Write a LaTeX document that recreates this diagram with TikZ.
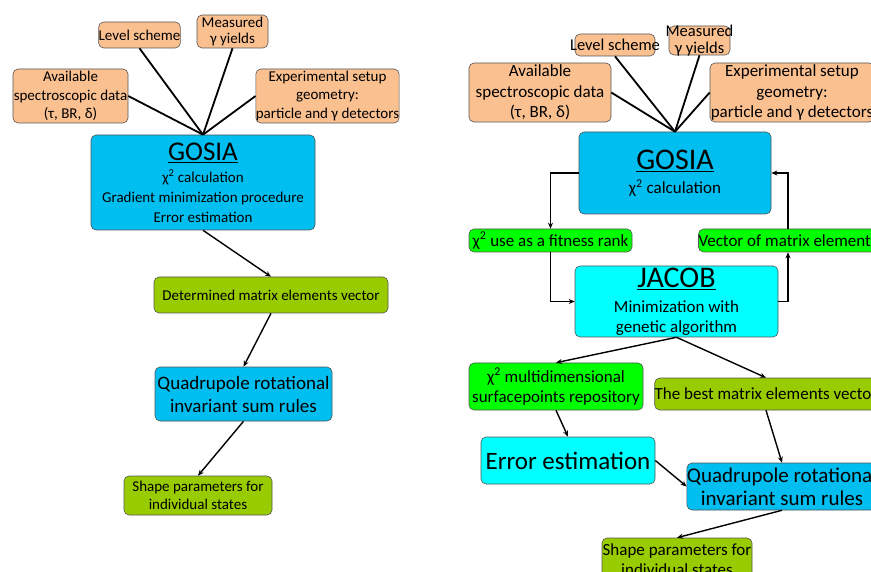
\documentclass[tikz,border=0pt]{standalone}
\usepackage{fontspec}
\setmainfont{Carlito}
\usetikzlibrary{arrows.meta, positioning, calc}
\definecolor{InputPeach}{HTML}{FAC090}
\definecolor{GosiaBlue}{HTML}{00BEF0}
\definecolor{JacobCyan}{HTML}{00FFFF}
\definecolor{RankGreen}{HTML}{00FF00}
\definecolor{ResultOlive}{HTML}{99CC00}
\definecolor{EdgeGray}{HTML}{555555}
\newcommand{\setfs}[2]{\fontsize{#1}{#2}\selectfont}

\tikzset{
  box/.style={draw=EdgeGray, line width=0.6pt, rounded corners=5pt, align=center, inner sep=0pt, text=black},
  inbox/.style={box, fill=InputPeach},
  codebox/.style={box, fill=GosiaBlue},
  jacobbox/.style={box, fill=JacobCyan},
  rankbox/.style={box, fill=RankGreen},
  resbox/.style={box, fill=ResultOlive},
  feed/.style={line width=1.8pt, black},
  flow/.style={line width=1.4pt, black, -{Stealth[length=6pt, width=5pt]}},
}

\begin{document}
\begin{tikzpicture}[x=1pt, y=-1pt]
  \useasboundingbox (0,0) rectangle (871,572);
  \clip (0,0) rectangle (871,572);

  % gradient chain
  \node[inbox, minimum width=81pt, minimum height=26pt, font=\setfs{15}{18}] (levelL) at (139.5,35) {Level scheme};
  \node[inbox, minimum width=71pt, minimum height=33pt, font=\setfs{15}{16}] (yieldsL) at (232.5,31.5) {Measured\\γ yields};
  \node[inbox, minimum width=115pt, minimum height=54pt, font=\setfs{15}{18.5}] (specL) at (70.5,96) {Available\\spectroscopic data\\(τ, BR, δ)};
  \node[inbox, minimum width=143pt, minimum height=54pt, font=\setfs{15}{18.5}] (setupL) at (327.5,96) {Experimental setup\\geometry:\\particle and γ detectors};
  \node[codebox, minimum width=224pt, minimum height=95pt, font=\setfs{15}{20}] (gosiaL) at (203,182.5)
    {{\setfs{27}{27}\underline{GOSIA}}\\[2pt] χ\textsuperscript{2} calculation\\Gradient minimization procedure\\Error estimation};
  \node[resbox, minimum width=234pt, minimum height=36pt, font=\setfs{15}{18}] (matrixL) at (271,295) {Determined matrix elements vector};
  \node[codebox, minimum width=177pt, minimum height=54pt, font=\setfs{19}{23}] (sumL) at (243.5,394) {Quadrupole rotational\\invariant sum rules};
  \node[resbox, minimum width=148pt, minimum height=39pt, font=\setfs{15}{18}] (shapeL) at (198,495.5) {Shape parameters for\\individual states};

  \foreach \src in {levelL.south, yieldsL.south, specL.east, setupL.west}
    \draw[feed] (\src) -- (gosiaL.north);
  \draw[flow] (gosiaL.south) -- (matrixL.north);
  \draw[flow] (matrixL.south) -- (sumL.north);
  \draw[flow] (sumL.south) -- (shapeL.north);

  % genetic chain
  \node[inbox, minimum width=80pt, minimum height=22pt] (levelR) at (615,45) {};
  \node[font=\setfs{16.5}{18}, inner sep=0pt] (levelRtext) at (levelR) {Level scheme};
  \node[inbox, minimum width=61pt, minimum height=29pt] (yieldsR) at (699.5,40.5) {};
  \node[font=\setfs{16.5}{17}, align=center, inner sep=0pt] (yieldsRtext) at (yieldsR) {Measured\\γ yields};
  \node[inbox, minimum width=142pt, minimum height=59pt, font=\setfs{17}{20.5}] (specR) at (540,92.5) {Available\\spectroscopic data\\(τ, BR, δ)};
  \node[inbox, minimum width=164pt, minimum height=59pt, font=\setfs{17}{20.5}] (setupR) at (792,92.5) {Experimental setup\\geometry:\\particle and γ detectors};
  \node[codebox, minimum width=192pt, minimum height=82pt, font=\setfs{17}{20}] (gosiaR) at (675,173)
    {{\setfs{30}{30}\underline{GOSIA}}\\[4pt] χ\textsuperscript{2} calculation};
  \node[rankbox, minimum width=163pt, minimum height=23pt, font=\setfs{17}{20}] (rankR) at (550.5,240.5) {χ\textsuperscript{2} use as a fitness rank};
  \node[rankbox, minimum width=176pt, minimum height=23pt, font=\setfs{17}{20}] (vectorR) at (788,240.5) {Vector of matrix elements};
  \node[jacobbox, minimum width=203pt, minimum height=71pt, font=\setfs{17}{20}] (jacobR) at (676.5,301.5)
    {{\setfs{30}{30}\underline{JACOB}}\\[5pt] Minimization with\\genetic algorithm};
  \node[rankbox, minimum width=174pt, minimum height=47pt, font=\setfs{17}{20}] (surfR) at (556,386.5) {χ\textsuperscript{2} multidimensional\\surfacepoints repository};
  \node[resbox, minimum width=220pt, minimum height=32pt, font=\setfs{17}{20}] (bestR) at (766,394) {The best matrix elements vector};
  \node[jacobbox, minimum width=174pt, minimum height=47pt, font=\setfs{25}{28}] (errorR) at (568,460.5) {Error estimation};
  \node[codebox, minimum width=190pt, minimum height=47pt, font=\setfs{21}{23}] (sumR) at (782,486.5) {Quadrupole rotational\\invariant sum rules};
  \node[resbox, minimum width=150pt, minimum height=44pt, font=\setfs{17}{20}] (shapeR) at (677,560) {Shape parameters for\\individual states};

  \foreach \src in {levelR.south, yieldsR.south, specR.east, setupR.west}
    \draw[feed] (\src) -- (gosiaR.north);
  \draw[flow] (gosiaR.west) -| (rankR.north);
  \draw[flow] (rankR.south) |- (jacobR.west);
  \draw[flow] (jacobR.east) -| (vectorR.south);
  \draw[flow] (vectorR.north) |- (gosiaR.east);
  \draw[flow] (jacobR.south) -- (surfR.north);
  \draw[flow] (jacobR.south) -- (bestR.north);
  \draw[flow] (surfR.south) -- (errorR.north);
  \draw[flow] (errorR.east) -- (sumR.west);
  \draw[flow] (bestR.south) -- (sumR.north);
  \draw[flow] (sumR.south) -- (shapeR.north);
\end{tikzpicture}
\end{document}
